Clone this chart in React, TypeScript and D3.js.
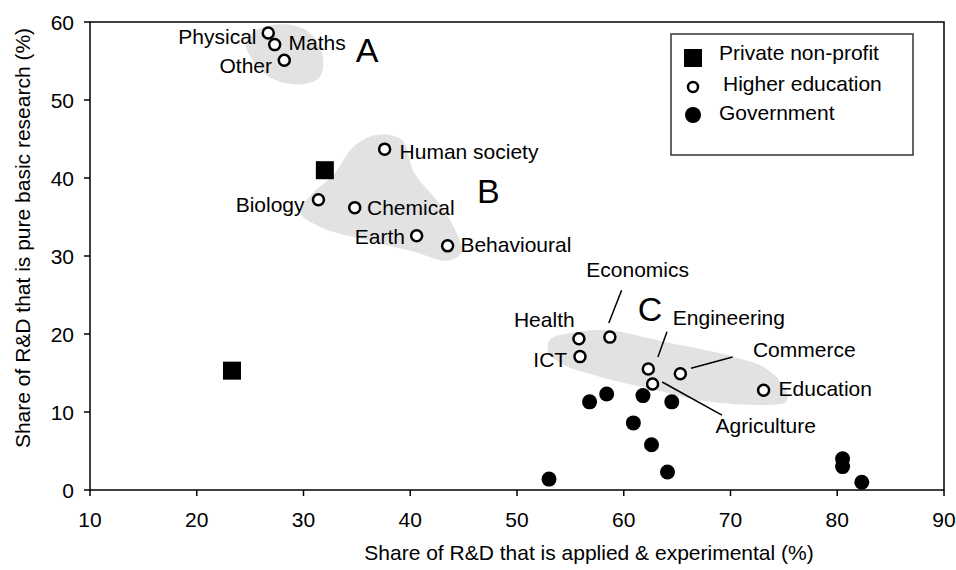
import React from "react";
import * as d3 from "d3";

const W = 956;
const H = 570;
const M = { left: 90, right: 12, top: 22, bottom: 80 };

const xTicks = [10, 20, 30, 40, 50, 60, 70, 80, 90];
const yTicks = [0, 10, 20, 30, 40, 50, 60];

const xTitle = "Share of R&D that is applied & experimental (%)";
const yTitle = "Share of R&D that is pure basic research (%)";

const seriesNames = ["Private non-profit", "Higher education", "Government"];

// Higher education fields
const heNames = ["Physical", "Maths", "Other", "Human society", "Biology", "Chemical", "Earth", "Behavioural", "Health", "ICT", "Economics", "Engineering", "Agriculture", "Commerce", "Education"];
const heX = [26.7, 27.3, 28.2, 37.6, 31.4, 34.8, 40.6, 43.5, 55.8, 55.9, 58.7, 62.3, 62.7, 65.3, 73.1];
const heY = [58.6, 57.1, 55.1, 43.7, 37.2, 36.2, 32.6, 31.3, 19.4, 17.1, 19.6, 15.5, 13.6, 14.9, 12.8];

// Government
const govX = [56.8, 58.4, 61.8, 64.5, 60.9, 62.6, 64.1, 53.0, 80.5, 80.5, 82.3];
const govY = [11.3, 12.3, 12.1, 11.3, 8.6, 5.8, 2.3, 1.4, 4.0, 3.0, 1.0];

// Private non-profit
const pnpX = [32.0, 23.3];
const pnpY = [41.0, 15.3];

// Labels [text, x, y, anchor]
const labels: [string, number, number, string][] = [
  ["Physical", 25.6, 57.2, "end"],
  ["Maths", 28.6, 56.4, "start"],
  ["Other", 27.05, 53.5, "end"],
  ["Human society", 39.0, 42.4, "start"],
  ["Biology", 30.1, 35.6, "end"],
  ["Chemical", 35.95, 35.3, "start"],
  ["Earth", 39.5, 31.5, "end"],
  ["Behavioural", 44.7, 30.5, "start"],
  ["Health", 55.4, 20.9, "end"],
  ["ICT", 54.7, 15.8, "end"],
  ["Economics", 61.3, 27.3, "middle"],
  ["Engineering", 64.6, 21.15, "start"],
  ["Commerce", 72.1, 17.05, "start"],
  ["Education", 74.5, 12.05, "start"],
  ["Agriculture", 68.6, 7.3, "start"],
];

// Leader lines [x1, y1, x2, y2]
const leaders: [number, number, number, number][] = [
  [59.8, 25.6, 58.6, 21.4],
  [64.05, 20.3, 63.2, 17.05],
  [66.3, 15.6, 70.2, 17.05],
  [63.6, 13.85, 69.2, 9.6],
];

// Group letters [letter, x, y]
const groups: [string, number, number][] = [
  ["A", 34.9, 54.9],
  ["B", 46.25, 36.8],
  ["C", 61.3, 21.7],
];

// Shaded cluster outlines (data units)
const blobA: [number, number][] = [[24.6, 57.4], [25.8, 59.1], [28.3, 59.7], [30.6, 58.6], [31.8, 55.6], [31.5, 52.9], [29.6, 52.0], [27.0, 52.8], [25.3, 55.0]];
const blobB: [number, number][] = [[29.7, 35.6], [30.9, 38.1], [32.8, 40.4], [34.7, 44.0], [36.8, 45.5], [39.2, 44.9], [40.4, 40.6], [42.9, 36.4], [44.5, 32.4], [44.8, 30.4], [43.5, 29.4], [40.4, 30.5], [35.7, 32.1], [31.6, 33.7]];
const blobC: [number, number][] = [[54.9, 20.1], [58.3, 20.5], [64.1, 18.9], [70.2, 17.1], [73.4, 15.5], [75.2, 12.8], [75.2, 11.3], [72.7, 10.9], [67.1, 11.5], [63.1, 12.8], [57.8, 14.5], [54.0, 16.3], [52.9, 17.9], [53.1, 19.3]];

const FONT = "'Liberation Sans', Arial, sans-serif";

export default function App() {
  const x = d3.scaleLinear().domain([10, 90]).range([M.left, W - M.right]);
  const y = d3.scaleLinear().domain([0, 60]).range([H - M.bottom, M.top]);

  const blobPath = d3
    .line<[number, number]>()
    .x((d) => x(d[0]))
    .y((d) => y(d[1]))
    .curve(d3.curveCatmullRomClosed.alpha(0.5));

  const x0 = x(10), x1 = x(90), y0 = y(0), y1 = y(60);
  const fs = 21;

  const lx = 693;
  const ly = [58, 87, 115];

  return (
    <svg width={W} height={H} style={{ position: "absolute", left: 0, top: 0, background: "#fff" }} fontFamily={FONT}>
      {/* blobs */}
      {[blobA, blobB, blobC].map((b, i) => (
        <path key={i} d={blobPath(b) || ""} fill="#e2e2e2" stroke="none" />
      ))}

      {/* frame */}
      <rect x={x0} y={y1} width={x1 - x0} height={y0 - y1} fill="none" stroke="#000" strokeWidth={1.5} />

      {/* x ticks */}
      {xTicks.map((t) => (
        <g key={"x" + t}>
          <line x1={x(t)} x2={x(t)} y1={y0} y2={y0 + 6} stroke="#000" strokeWidth={1.5} />
          <text x={x(t)} y={y0 + 37} textAnchor="middle" fontSize={fs}>{t}</text>
        </g>
      ))}
      {/* y ticks */}
      {yTicks.map((t) => (
        <g key={"y" + t}>
          <line x1={x0 - 6} x2={x0} y1={y(t)} y2={y(t)} stroke="#000" strokeWidth={1.5} />
          <text x={x0 - 16} y={y(t) + 7.5} textAnchor="end" fontSize={fs}>{t}</text>
        </g>
      ))}

      <text x={589} y={560} textAnchor="middle" fontSize={fs}>{xTitle}</text>
      <text transform={`translate(30,${238}) rotate(-90)`} textAnchor="middle" fontSize={fs}>{yTitle}</text>

      {/* leader lines */}
      {leaders.map((l, i) => (
        <line key={"l" + i} x1={x(l[0])} y1={y(l[1])} x2={x(l[2])} y2={y(l[3])} stroke="#000" strokeWidth={1.5} />
      ))}

      {/* government */}
      {govX.map((v, i) => (
        <circle key={"g" + i} cx={x(v)} cy={y(govY[i])} r={7.5} fill="#000" />
      ))}
      {/* private non-profit */}
      {pnpX.map((v, i) => (
        <rect key={"p" + i} x={x(v) - 9} y={y(pnpY[i]) - 9} width={18} height={18} fill="#000" />
      ))}
      {/* higher education */}
      {heX.map((v, i) => (
        <circle key={"h" + i} cx={x(v)} cy={y(heY[i])} r={5.5} fill="#fff" stroke="#000" strokeWidth={2.5} />
      ))}

      {/* labels */}
      {labels.map((l, i) => (
        <text key={"t" + i} x={x(l[1])} y={y(l[2])} textAnchor={l[3] as any} fontSize={fs}>{l[0]}</text>
      ))}
      {groups.map((g) => (
        <text key={g[0]} x={x(g[1])} y={y(g[2])} fontSize={34}>{g[0]}</text>
      ))}

      {/* legend */}
      <rect x={671} y={34} width={242} height={121} fill="#fff" stroke="#333" strokeWidth={1.5} />
      <rect x={lx - 9} y={ly[0] - 9} width={18} height={18} fill="#000" />
      <circle cx={lx} cy={ly[1]} r={5} fill="#fff" stroke="#000" strokeWidth={2.5} />
      <circle cx={lx} cy={ly[2]} r={8} fill="#000" />
      <text x={719} y={ly[0] + 2} fontSize={fs}>{seriesNames[0]}</text>
      <text x={723} y={ly[1] + 4} fontSize={fs}>{seriesNames[1]}</text>
      <text x={719} y={ly[2] + 5} fontSize={fs}>{seriesNames[2]}</text>
    </svg>
  );
}
